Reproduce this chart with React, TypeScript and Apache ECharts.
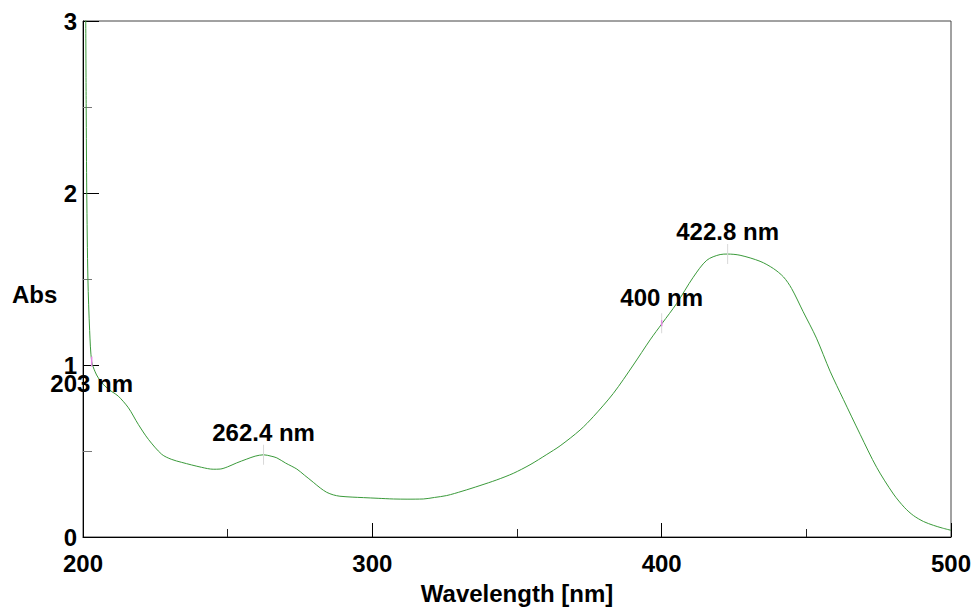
import React, { useEffect, useRef } from "react";
import * as echarts from "echarts";

// Wavelength (nm) and absorbance
const wavelengths: number[] = [
  200.9, 201.1, 201.3, 201.7, 202.3, 203.0, 204.2, 205.3, 207.6, 210.0, 212.2,
  215.7, 219.1, 222.6, 227.2, 230.5, 234.1, 241.0, 245.0, 247.4, 250.0, 253.0,
  256.6, 259.5, 262.4, 265.0, 267.0, 270.0, 273.9, 276.5, 279.6, 282.0, 284.2,
  286.5, 288.8, 293.0, 296.9, 302.0, 307.3, 312.0, 317.6, 321.5, 325.7, 331.0,
  337.2, 343.0, 348.7, 354.5, 360.3, 364.9, 371.8, 376.4, 383.3, 390.2, 396.0,
  400.2, 405.2, 410.9, 415.6, 420.2, 422.8, 427.1, 434.0, 438.6, 442.1, 444.9,
  448.9, 453.5, 458.2, 462.8, 468.6, 474.3, 480.1, 484.0, 487.0, 490.5, 493.9,
  497.0, 500.0,
];
const absorbance: number[] = [
  3.2, 2.5, 2.0, 1.5, 1.2, 1.02, 0.96, 0.925, 0.877, 0.845, 0.819,
  0.751, 0.655, 0.568, 0.481, 0.452, 0.434, 0.405, 0.394, 0.395, 0.408, 0.43,
  0.453, 0.47, 0.478, 0.47, 0.46, 0.43, 0.395, 0.36, 0.318, 0.285, 0.26,
  0.245, 0.237, 0.232, 0.229, 0.225, 0.221, 0.22, 0.221, 0.23, 0.241, 0.266,
  0.299, 0.332, 0.37, 0.42, 0.48, 0.53, 0.622, 0.7, 0.835, 1.0, 1.146,
  1.243, 1.358, 1.51, 1.609, 1.642, 1.645, 1.638, 1.603, 1.561, 1.512, 1.445,
  1.31, 1.156, 0.964, 0.8, 0.597, 0.405, 0.25, 0.17, 0.125, 0.09, 0.068,
  0.052, 0.039,
];

// Peak annotations
const peakWavelengths: number[] = [203, 262.4, 400, 422.8];
const peakAbsorbance: number[] = [1.02, 0.478, 1.243, 1.645];
const peakLabels: string[] = ["203 nm", "262.4 nm", "400 nm", "422.8 nm"];
const peakLabelSide: string[] = ["bottom", "top", "top", "top"];
const peakLabelDistance: number[] = [5, 0, 4, 1];
const peakMarkerColor: string[] = ["#e58ae5", "#d8d8d8", "#d8d8d8", "#d8d8d8"];

const xTicks: number[] = [200, 300, 400, 500];
const yTicks: number[] = [0, 1, 2, 3];

const FONT = "'Liberation Sans', Arial, sans-serif";

export default function App() {
  const ref = useRef<HTMLDivElement>(null);

  useEffect(() => {
    if (!ref.current) return;
    const chart = echarts.init(ref.current, undefined, { renderer: "svg" });

    const data = wavelengths.map((w, i) => [w, absorbance[i]]);
    const markData: any[] = [];
    peakWavelengths.forEach((w, i) => {
      markData.push({
        coord: [w, peakAbsorbance[i]],
        symbol: "rect",
        symbolSize: i === 0 ? [1.5, 10] : [1, 20],
        itemStyle: { color: peakMarkerColor[i] },
        label: {
          show: true,
          formatter: peakLabels[i],
          position: peakLabelSide[i],
          distance: peakLabelDistance[i],
          color: "#000",
          fontSize: 24,
          fontWeight: "bold",
          fontFamily: FONT,
        },
      });
    });
    // small pink marker at 400 nm
    markData.push({
      coord: [peakWavelengths[2], peakAbsorbance[2]],
      symbol: "rect",
      symbolSize: [1.5, 6],
      itemStyle: { color: "#e58ae5" },
      label: { show: false },
    });

    const labelStyle = {
      color: "#000",
      fontSize: 24,
      fontWeight: "bold" as const,
      fontFamily: FONT,
    };

    chart.setOption({
      animation: false,
      backgroundColor: "#fff",
      grid: {
        left: 83,
        right: 25,
        top: 21,
        bottom: 70,
        show: true,
        borderColor: "#444",
        borderWidth: 1,
        backgroundColor: "transparent",
      },
      graphic: [
        {
          type: "text",
          left: 12,
          top: 282,
          style: { text: "Abs", fill: "#000", font: `bold 24px ${FONT}` },
        },
      ],
      xAxis: {
        type: "value",
        min: xTicks[0],
        max: xTicks[xTicks.length - 1],
        interval: 100,
        name: "Wavelength [nm]",
        nameLocation: "middle",
        nameGap: 44,
        nameTextStyle: labelStyle,
        axisLine: { show: true, lineStyle: { color: "#000", width: 1 } },
        axisTick: { show: true, inside: true, length: 14, lineStyle: { color: "#000" } },
        minorTick: { show: true, splitNumber: 2, length: 8, lineStyle: { color: "#222" } },
        splitLine: { show: false },
        axisLabel: { ...labelStyle, margin: 14 },
      },
      yAxis: {
        type: "value",
        min: yTicks[0],
        max: yTicks[yTicks.length - 1],
        interval: 1,
        axisLine: { show: true, lineStyle: { color: "#000", width: 1 } },
        axisTick: { show: true, inside: true, length: 16, lineStyle: { color: "#000" } },
        minorTick: { show: true, splitNumber: 2, length: 9, lineStyle: { color: "#777" } },
        splitLine: { show: false },
        axisLabel: { ...labelStyle, margin: 6 },
      },
      series: [
        {
          type: "line",
          data,
          showSymbol: false,
          smooth: 0.3,
          clip: true,
          lineStyle: { color: "#3a9a3a", width: 1 },
          itemStyle: { color: "#3a9a3a" },
          markPoint: {
            symbolKeepAspect: false,
            data: markData,
          },
          z: 3,
        },
      ],
    });

    return () => chart.dispose();
  }, []);

  return (
    <div
      ref={ref}
      style={{ position: "fixed", left: 0, top: 0, width: 976, height: 610 }}
    />
  );
}
